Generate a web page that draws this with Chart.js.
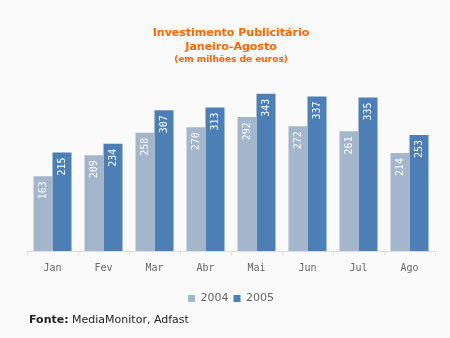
<!DOCTYPE html>
<html>
<head>
<meta charset="utf-8">
<script src="https://cdn.jsdelivr.net/npm/chart.js@4/dist/chart.umd.min.js"></script>
<style>
  html, body { margin: 0; padding: 0; background: #fafafa; }
  #wrap { position: relative; width: 450px; height: 338px; }
  #c { position: absolute; left: 0; top: 0; }
  #src { position: absolute; left: 29px; top: 313px; font: 11px "DejaVu Sans", sans-serif; color: #222; }
</style>
</head>
<body>
<div id="wrap">
  <canvas id="c" width="450" height="338"></canvas>
  <div id="src"><b>Fonte:</b> MediaMonitor, Adfast</div>
</div>
<script>
const months = ['Jan', 'Fev', 'Mar', 'Abr', 'Mai', 'Jun', 'Jul', 'Ago'];
const values2004 = [163, 209, 258, 270, 292, 272, 261, 214];
const values2005 = [215, 234, 307, 313, 343, 337, 335, 253];
const seriesNames = ['2004', '2005'];

const valueLabels = {
  id: 'valueLabels',
  afterDatasetsDraw(chart) {
    const ctx = chart.ctx;
    ctx.save();
    ctx.fillStyle = '#ffffff';
    ctx.font = '10px "DejaVu Sans Mono", monospace';
    ctx.textAlign = 'right';
    ctx.textBaseline = 'middle';
    chart.data.datasets.forEach((ds, i) => {
      chart.getDatasetMeta(i).data.forEach((bar, j) => {
        ctx.save();
        ctx.translate(bar.x, bar.y + 5);
        ctx.rotate(-Math.PI / 2);
        ctx.fillText(String(ds.data[j]), 0, 0);
        ctx.restore();
      });
    });
    ctx.restore();
  }
};

new Chart(document.getElementById('c'), {
  type: 'bar',
  data: {
    labels: months,
    datasets: [
      { label: seriesNames[0], data: values2004, backgroundColor: '#a3b6cb' },
      { label: seriesNames[1], data: values2005, backgroundColor: '#4b7fb6' }
    ]
  },
  options: {
    responsive: false,
    animation: false,
    layout: { padding: { left: 27, right: 15, top: 26, bottom: 24 } },
    datasets: { bar: { categoryPercentage: 0.745, barPercentage: 1 } },
    scales: {
      x: {
        grid: { drawOnChartArea: false, drawTicks: true, tickLength: 4, color: '#dddddd' },
        border: { color: '#dddddd' },
        ticks: { color: '#666666', font: { family: '"DejaVu Sans Mono", monospace', size: 10 }, padding: 7 },
        afterFit(scale) { scale.height += 7; }
      },
      y: { display: false, min: 0, max: 383 }
    },
    plugins: {
      title: {
        display: true,
        text: ['Investimento Publicitário', 'Janeiro-Agosto'],
        color: '#ff6600',
        font: { family: '"DejaVu Sans", sans-serif', size: 11, weight: 'bold', lineHeight: 1.3 },
        padding: { top: 0, bottom: 0 }
      },
      subtitle: {
        display: true,
        text: '(em milhões de euros)',
        color: '#ff6600',
        font: { family: '"DejaVu Sans", sans-serif', size: 9, weight: 'bold' },
        padding: { top: 0, bottom: 10 }
      },
      legend: {
        position: 'bottom',
        labels: { boxWidth: 7, boxHeight: 7, color: '#666666', font: { family: '"DejaVu Sans", sans-serif', size: 11 }, padding: 5 }
      },
      tooltip: { enabled: false }
    }
  },
  plugins: [valueLabels]
});
</script>
</body>
</html>
